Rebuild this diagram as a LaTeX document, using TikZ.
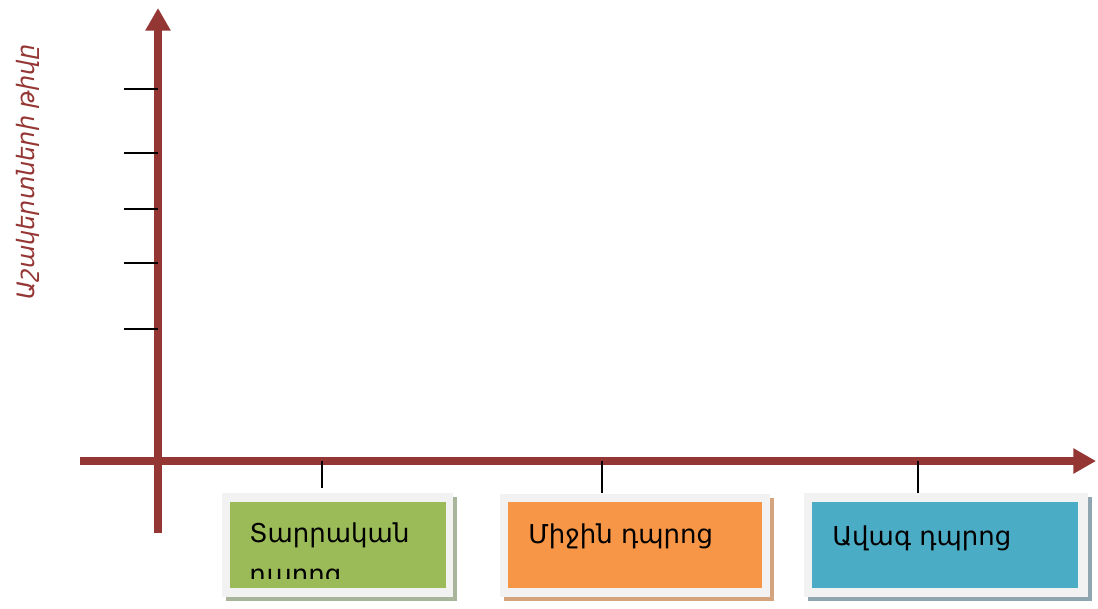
\documentclass[tikz,border=0pt]{standalone}
\usepackage{fontspec}
\setmainfont{DejaVu Sans}
\usetikzlibrary{arrows.meta}
\definecolor{axred}{HTML}{943634}
\definecolor{boxgreen}{HTML}{9BBB59}
\definecolor{boxorange}{HTML}{F79646}
\definecolor{boxblue}{HTML}{4BACC6}
\definecolor{framegray}{HTML}{F2F2F2}
\definecolor{shgreen}{HTML}{A9B59A}
\definecolor{shorange}{HTML}{D4A47F}
\definecolor{shblue}{HTML}{8FA6B0}
\tikzset{
  axis/.style={draw=axred, line width=6pt, -{Triangle[width=18pt,length=17pt]}},
  tickline/.style={draw=black, line width=1.3pt},
  boxtext/.style={anchor=base west, inner sep=0pt, font=\fontsize{19.5}{31}\selectfont, text=black},
  ylabel/.style={rotate=90, inner sep=0pt, text=axred, font=\fontsize{18}{20}\selectfont\itshape}
}
\begin{document}
\begin{tikzpicture}[x=0.75pt,y=-0.75pt]
\useasboundingbox (0,0) rectangle (1098,608);
% axes
\coordinate (ybot) at (158,533);
\coordinate (ytop) at (158,8);
\coordinate (xl) at (80,461);
\coordinate (xr) at (1096,461);
\draw[axis] (ybot) -- (ytop);
\draw[axis] (xl) -- (xr);
% y ticks
\foreach \yy in {89,153,209,263,329}{
  \draw[tickline] (124,\yy) -- (158,\yy);
}
% x ticks
\draw[tickline] (322,461) -- (322,488);
\draw[tickline] (602,461) -- (602,493);
\draw[tickline] (918,461) -- (918,493);
% y label
\node[ylabel] (ylab) at (28,172) {Աշակերտների թիվը};
% box 1
\fill[shgreen] (226,497) rectangle (457,601);
\fill[framegray] (222,493) rectangle (453,597);
\fill[boxgreen] (230,502) rectangle (446,588);
\begin{scope}
  \clip (230,502) rectangle (446,578);
  \node[boxtext, text width=160pt] (t1) at (249,542) {Տարրական դպրոց};
\end{scope}
% box 2
\fill[shorange] (504,498) rectangle (774,601);
\fill[framegray] (500,494) rectangle (770,597);
\fill[boxorange] (508,502) rectangle (762,588);
\node[boxtext] (t2) at (528,543) {Միջին դպրոց};
% box 3
\fill[shblue] (808,497) rectangle (1092,601);
\fill[framegray] (804,493) rectangle (1088,597);
\fill[boxblue] (812,502) rectangle (1078,588);
\node[boxtext] (t3) at (832,545) {Ավագ դպրոց};
\end{tikzpicture}
\end{document}
